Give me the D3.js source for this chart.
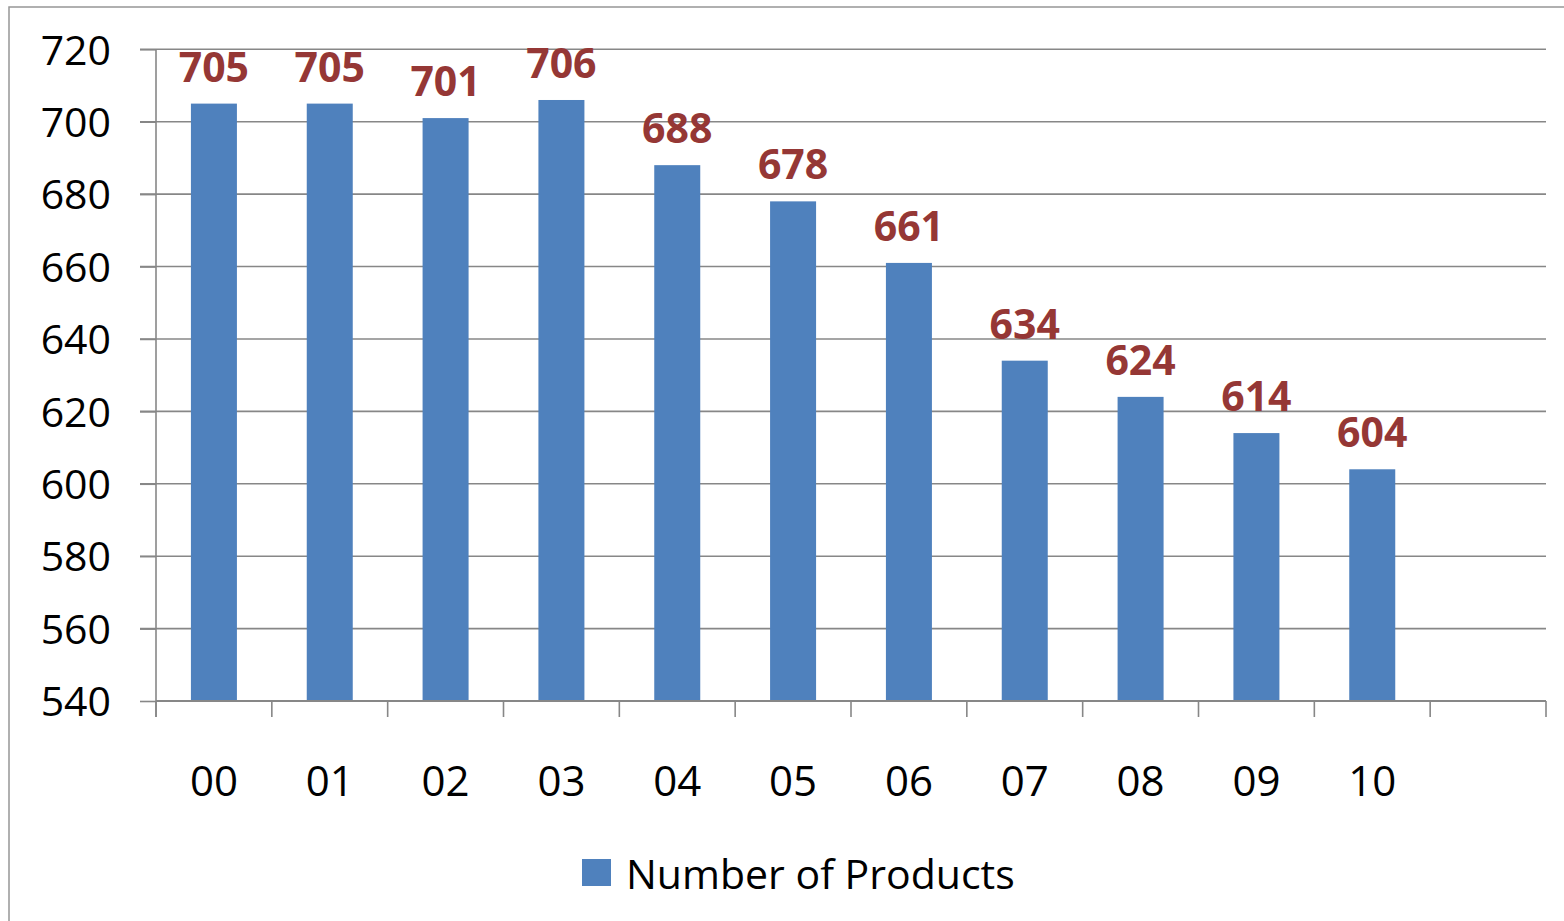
<!DOCTYPE html>
<html><head><meta charset="utf-8">
<script src="https://cdn.jsdelivr.net/npm/d3@7"></script>
<style>
html,body{margin:0;padding:0;background:#fff;}
svg{display:block;}
text{font-family:"Open Sans", Lato, sans-serif;}
</style></head>
<body>
<svg id="chart" width="1564" height="921"></svg>
<script>
const categories = ["00","01","02","03","04","05","06","07","08","09","10",""];
const values = [705,705,701,706,688,678,661,634,624,614,604];
const yTicks = [540,560,580,600,620,640,660,680,700,720];
const seriesName = "Number of Products";

const svg = d3.select("#chart");
const mLeft = 156, mRight = 1546, mTop = 49.3, mBottom = 701;

svg.append("rect").attr("x",9).attr("y",7).attr("width",1600).attr("height",1000)
  .attr("fill","#fff").attr("stroke","#979797").attr("stroke-width",1.5);

const x = d3.scaleBand().domain(categories.map((c,i)=>i)).range([mLeft,mRight]).paddingInner(0).paddingOuter(0);
const y = d3.scaleLinear().domain([540,720]).range([mBottom,mTop]);

// gridlines
svg.append("g").selectAll("line").data(yTicks.filter(t=>t>540)).join("line")
  .attr("x1",140).attr("x2",mRight).attr("y1",d=>y(d)).attr("y2",d=>y(d))
  .attr("stroke","#878787").attr("stroke-width",1.6);

// y axis
const yAxis = d3.axisLeft(y).tickValues(yTicks).tickSize(16).tickPadding(29).tickFormat(d3.format("d"));
const gy = svg.append("g").attr("transform",`translate(${mLeft},0)`).call(yAxis);
gy.select(".domain").attr("stroke","#878787").attr("stroke-width",1.6).attr("d",`M0,${mBottom+16}V${mTop}`);
gy.selectAll(".tick line").attr("stroke","#878787").attr("stroke-width",1.6);
gy.selectAll(".tick text").attr("font-size",41).attr("fill","#000").attr("dy","0.36em")
  .style("font-family","'Open Sans', Lato, sans-serif");

// bars
const bw = 46;
svg.append("g").selectAll("rect").data(values).join("rect")
  .attr("x",(d,i)=>x(i)+x.bandwidth()/2-bw/2).attr("width",bw)
  .attr("y",d=>y(d)).attr("height",d=>mBottom-y(d))
  .attr("fill","#4F81BD");

// x axis
const bounds = d3.range(categories.length+1).map(i=>mLeft+i*x.bandwidth());
svg.append("line").attr("x1",mLeft).attr("x2",mRight).attr("y1",mBottom).attr("y2",mBottom)
  .attr("stroke","#878787").attr("stroke-width",1.8);
svg.append("g").selectAll("line").data(bounds).join("line")
  .attr("x1",d=>d).attr("x2",d=>d).attr("y1",mBottom).attr("y2",mBottom+16)
  .attr("stroke","#878787").attr("stroke-width",1.6);
svg.append("g").selectAll("text").data(categories).join("text")
  .attr("x",(d,i)=>x(i)+x.bandwidth()/2).attr("y",796)
  .attr("text-anchor","middle").attr("font-size",42).attr("fill","#000").text(d=>d);

// data labels
svg.append("g").selectAll("text").data(values).join("text")
  .attr("x",(d,i)=>x(i)+x.bandwidth()/2).attr("y",d=>y(d)-22)
  .attr("text-anchor","middle").attr("font-size",41).attr("font-weight","bold")
  .attr("fill","#953735").text(d=>d);

// legend
svg.append("rect").attr("x",582).attr("y",859).attr("width",29).attr("height",27).attr("fill","#4F81BD");
svg.append("text").attr("x",626).attr("y",889).attr("font-size",41).attr("fill","#000").text(seriesName);
</script>
</body></html>
